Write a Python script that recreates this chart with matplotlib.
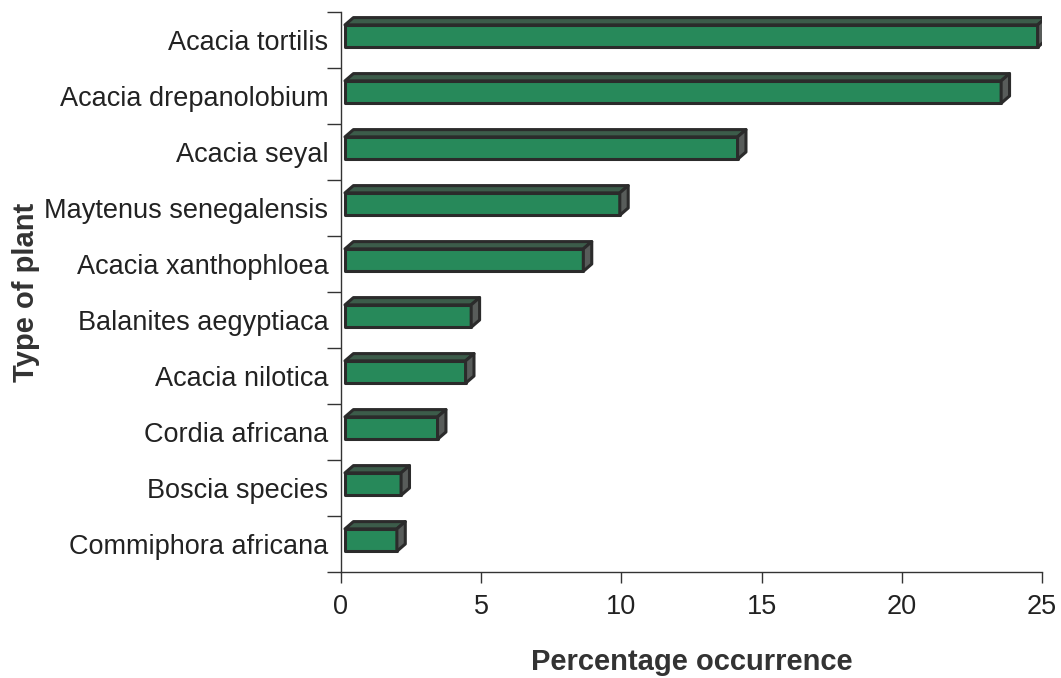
import matplotlib
matplotlib.use("Agg")
import matplotlib.pyplot as plt
from matplotlib.patches import Polygon
from matplotlib.transforms import ScaledTranslation

plants = [
    "Acacia tortilis",
    "Acacia drepanolobium",
    "Acacia seyal",
    "Maytenus senegalensis",
    "Acacia xanthophloea",
    "Balanites aegyptiaca",
    "Acacia nilotica",
    "Cordia africana",
    "Boscia species",
    "Commiphora africana",
]
occurrence = [24.7, 23.4, 14.0, 9.8, 8.5, 4.5, 4.3, 3.3, 2.0, 1.85]
x_ticks = [0, 5, 10, 15, 20, 25]

plt.rcParams["font.family"] = ["Liberation Sans", "DejaVu Sans"]

DPI = 100
fig = plt.figure(figsize=(10.61, 6.78), dpi=DPI)
ax = fig.add_axes([341 / 1061, 106 / 678, 701 / 1061, 560 / 678])

ax.set_xlim(0, 25)
ax.set_ylim(len(plants) - 0.5, -0.5)

# 3-D look: front face, top face and right-hand side face
front_col = "#27895a"
top_col = "#3c5c4a"
side_col = "#585c5a"
edge_col = "#2b2b2b"
bar_h = 0.4           # front face height (category units)
lift = 0.07           # front face sits a little above the category centre
dx = 0.3              # depth offset along x (data units)
dy = 0.13             # depth offset along y (category units)

shift = ax.transData + ScaledTranslation(4 / DPI, 0, fig.dpi_scale_trans)

for i, v in enumerate(occurrence):
    yb = i - lift + bar_h / 2   # bottom of front face (inverted axis)
    yt = i - lift - bar_h / 2   # top of front face
    front = Polygon([(0, yb), (v, yb), (v, yt), (0, yt)], closed=True,
                    facecolor=front_col, edgecolor=edge_col, lw=2.2,
                    transform=shift, zorder=3, joinstyle="round")
    top = Polygon([(0, yt), (v, yt), (v + dx, yt - dy), (dx, yt - dy)],
                  closed=True, facecolor=top_col, edgecolor=edge_col, lw=2.2,
                  transform=shift, zorder=3, joinstyle="round")
    side = Polygon([(v, yb), (v + dx, yb - dy), (v + dx, yt - dy), (v, yt)],
                   closed=True, facecolor=side_col, edgecolor=edge_col, lw=2.2,
                   transform=shift, zorder=3, joinstyle="round")
    for p in (front, top, side):
        ax.add_patch(p)

# axes styling
for s in ("top", "right"):
    ax.spines[s].set_visible(False)
for s in ("left", "bottom"):
    ax.spines[s].set_color("#333333")
    ax.spines[s].set_linewidth(1.0)

ax.set_xticks(x_ticks)
ax.set_xticklabels([str(t) for t in x_ticks])
ax.tick_params(axis="x", direction="out", length=8, width=1.0, color="#333333",
               pad=8, labelsize=19.5, labelcolor="#222222")

ax.set_yticks(range(len(plants)))
ax.set_yticklabels(plants)
ax.set_yticks([i - 0.5 for i in range(len(plants) + 1)], minor=True)
ax.tick_params(axis="y", which="major", length=0, pad=9, labelsize=19.5,
               labelcolor="#222222")
ax.tick_params(axis="y", which="minor", direction="out", length=10, width=1.0,
               color="#333333")

ax.set_xlabel("Percentage occurrence", fontsize=21, fontweight="bold",
              color="#333333", labelpad=20)
ax.set_ylabel("Type of plant", fontsize=21, fontweight="bold",
              color="#333333")
ax.yaxis.set_label_coords(-0.43, 0.5)

fig.savefig("out.png", dpi=DPI, facecolor="white")
